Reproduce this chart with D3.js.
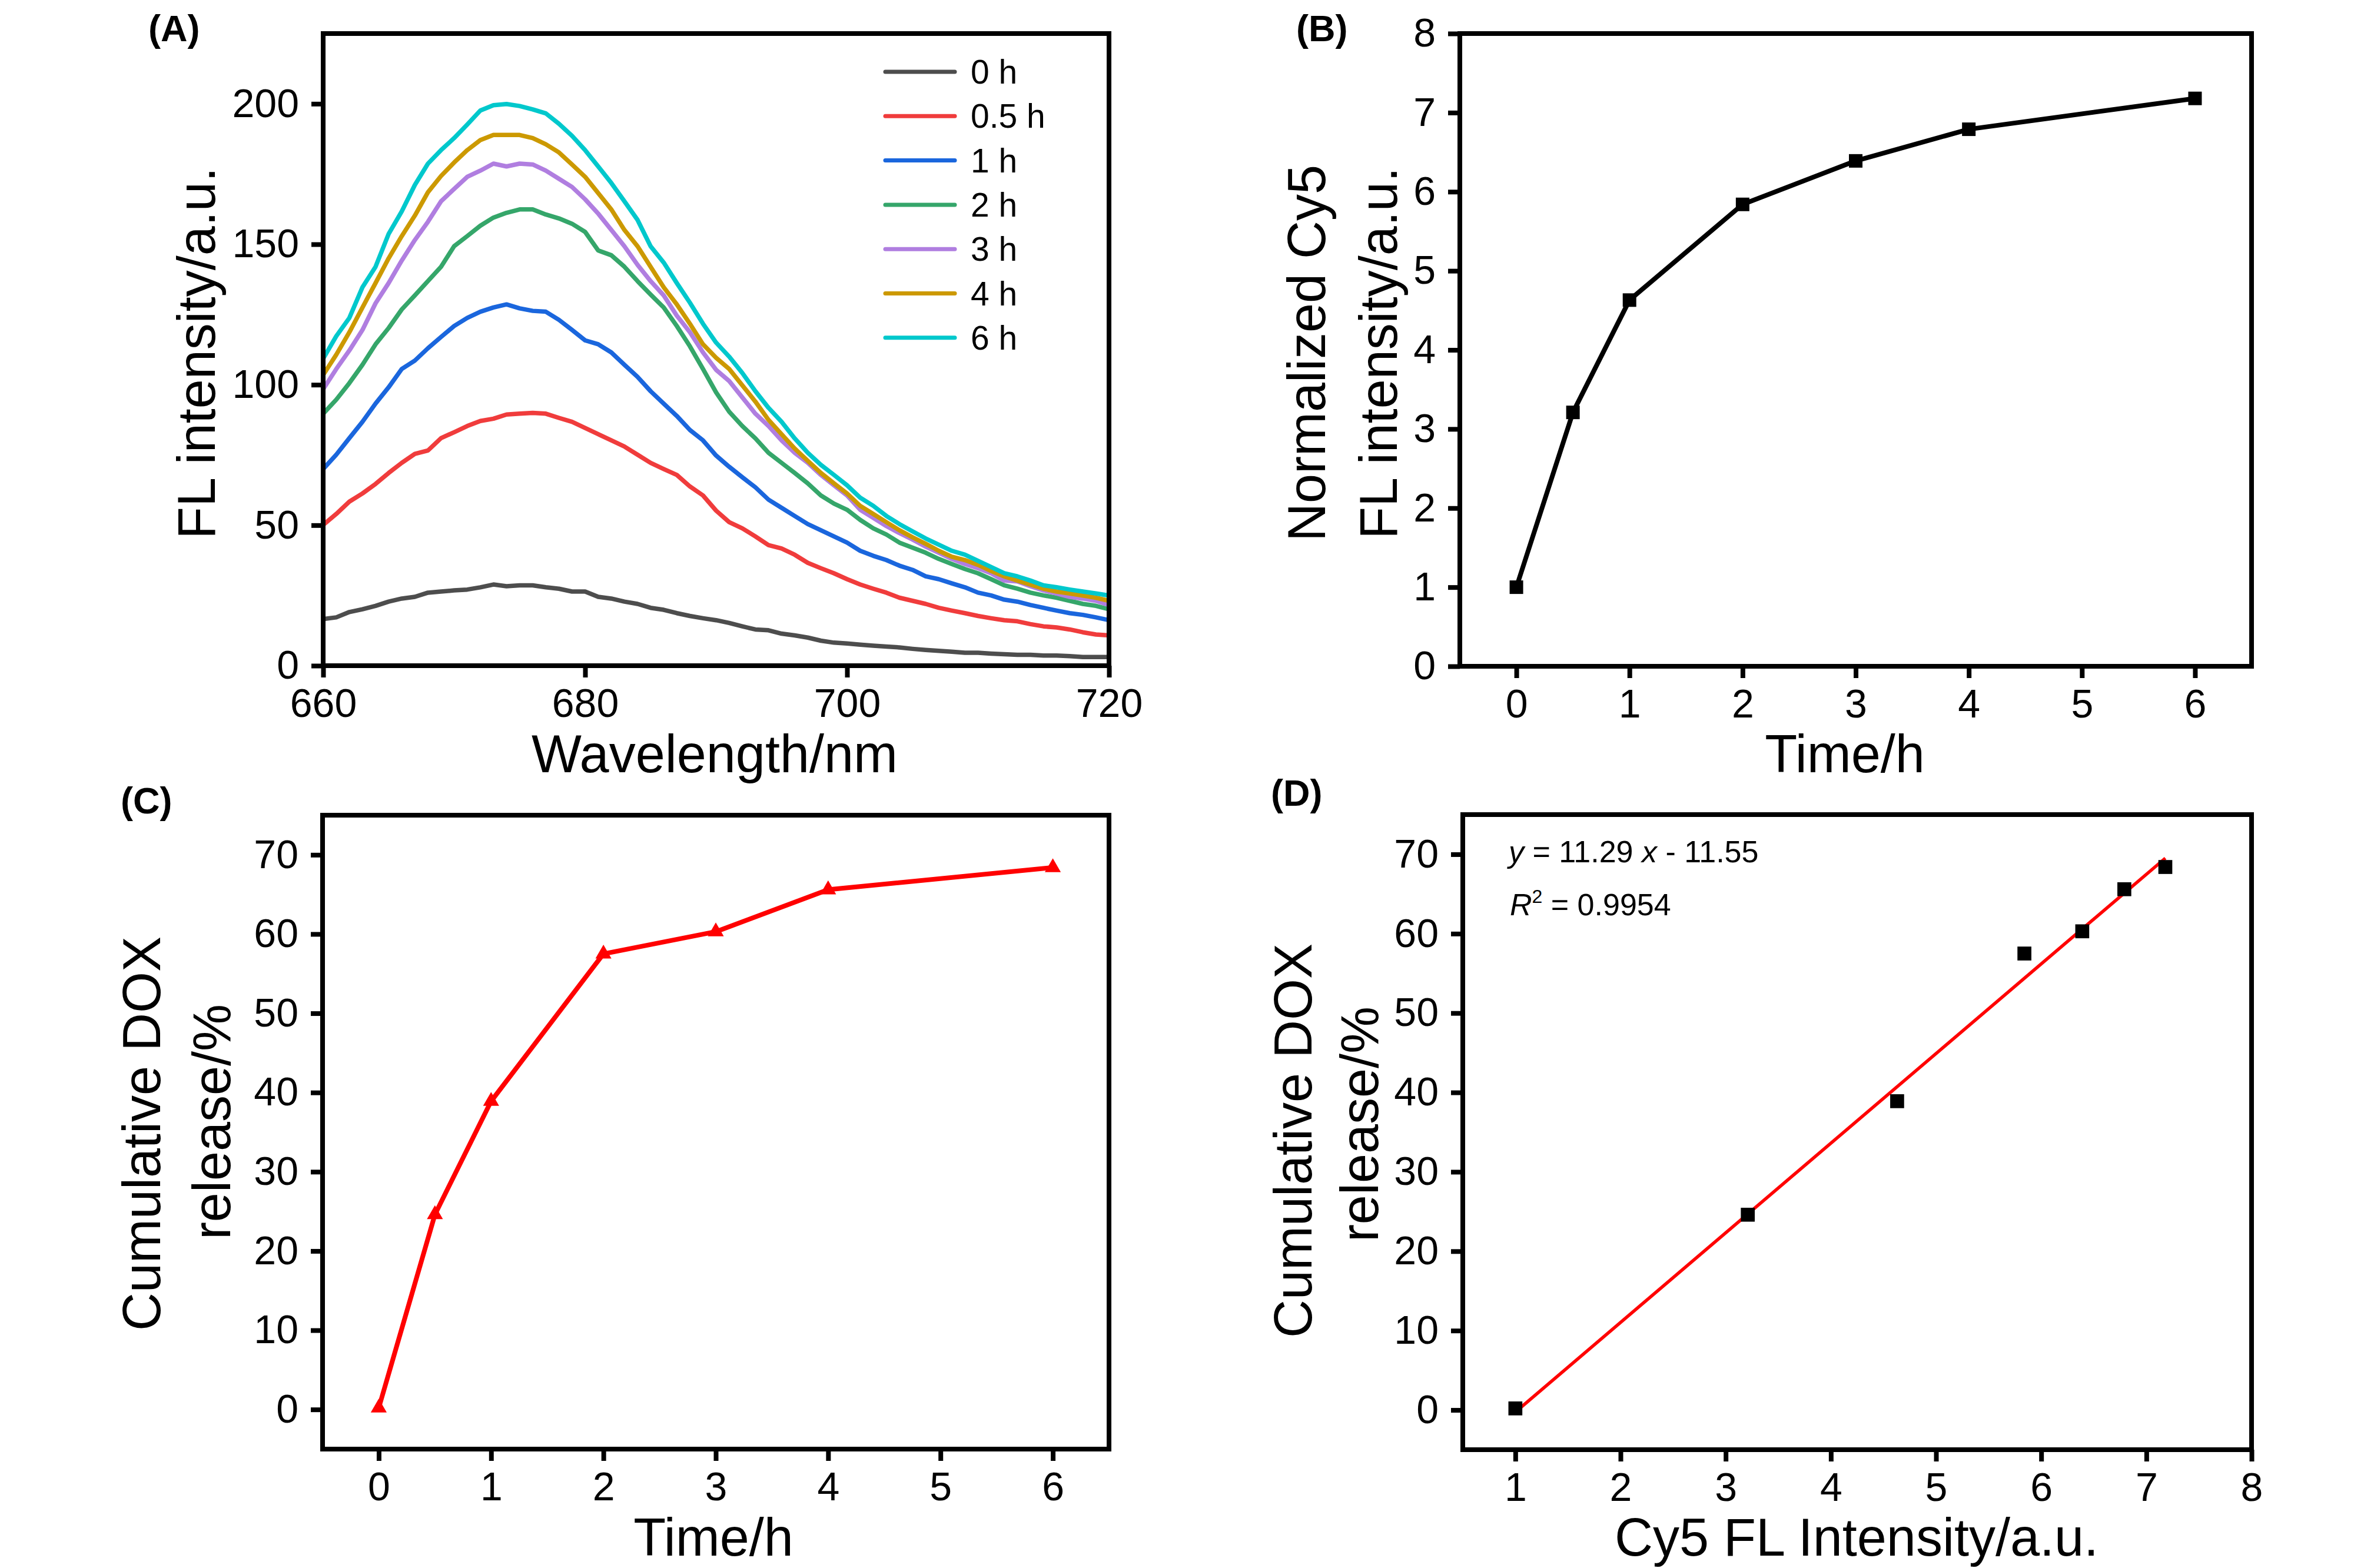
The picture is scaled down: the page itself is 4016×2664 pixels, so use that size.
<!DOCTYPE html>
<html>
<head>
<meta charset="utf-8">
<script src="https://cdn.jsdelivr.net/npm/d3@7/dist/d3.min.js"></script>
<style>
  html, body { margin: 0; padding: 0; background: #fff; }
  svg { display: block; }
  text { font-family: "Liberation Sans", Arial, sans-serif; fill: #000; }
</style>
</head>
<body>
<script>
// ---------------- DATA ----------------
const wavelengths = [660,661,662,663,664,665,666,667,668,669,670,671,672,673,674,675,676,677,678,679,680,681,682,683,684,685,686,687,688,689,690,691,692,693,694,695,696,697,698,699,700,701,702,703,704,705,706,707,708,709,710,711,712,713,714,715,716,717,718,719,720];
const seriesLabels = ["0 h", "0.5 h", "1 h", "2 h", "3 h", "4 h", "6 h"];
const seriesColors = ["#4d4d4d", "#f03c3c", "#1a66dd", "#35a66a", "#b07ee0", "#cc9900", "#00c8cc"];
const fl0h = [16.6,17.2,19.1,20.1,21.3,22.8,23.9,24.5,26,26.4,26.8,27.1,27.9,28.9,28.3,28.6,28.6,27.9,27.4,26.4,26.4,24.5,23.9,22.8,22,20.6,19.9,18.7,17.7,16.9,16.2,15.2,14,12.9,12.6,11.4,10.8,10,8.9,8.2,7.9,7.5,7.1,6.8,6.5,6,5.6,5.3,5,4.6,4.6,4.3,4.1,3.9,3.9,3.6,3.6,3.4,3.1,3.1,3.1];
const fl05h = [50.1,54,58.4,61.3,64.7,68.6,72.2,75.4,76.6,81,83.1,85.3,87.1,87.9,89.4,89.7,90,89.7,88.2,86.8,84.6,82.4,80.2,78,75.1,72.2,70,67.9,63.8,60.6,55.2,51.1,48.9,46,42.9,41.7,39.5,36.6,34.7,32.9,30.8,28.9,27.4,26,24.2,23.1,22,20.6,19.6,18.7,17.7,16.9,16.2,15.8,14.8,14,13.6,12.9,11.9,11.1,10.8];
const fl1h = [70,75.1,81,86.8,93.3,99.1,105.6,108.6,113,117,120.9,123.8,126,127.5,128.6,127.2,126.3,126,123.1,119.5,115.8,114.4,111.5,107.1,102.8,97.7,93.3,88.9,83.9,80.2,74.8,70.8,67.1,63.5,59.1,56.2,53.3,50.4,48.2,46,43.8,40.9,39.1,37.6,35.6,34.1,31.8,30.8,29.3,27.9,26,25,23.5,22.8,21.6,20.6,19.6,18.7,18.1,17.2,16.2];
const fl2h = [89.7,94.7,100.6,107.1,114.4,120.2,126.8,131.8,136.9,142,149.3,152.9,156.6,159.5,161.2,162.4,162.4,160.6,159.2,157.3,154.4,147.8,146.1,142,136.9,132.1,127.5,120.9,113.7,105.6,97.3,90.4,85.3,80.9,75.8,72.2,68.6,64.9,60.6,57.7,55.5,51.9,48.9,46.7,43.8,42,40.2,38,36.2,34.4,32.9,30.8,28.6,27.4,26,25,24.2,23.1,22,21.3,20.1];
const fl3h = [98.4,105.6,112.2,119.5,129,136.2,144.2,151.5,158,165.3,169.7,174,176.2,178.7,177.7,178.7,178.4,176.2,173.3,170.4,166,160.9,155.1,149.3,142.7,136.9,131.8,124.6,118.7,111.5,105.3,101.3,95.5,89.7,85.3,80.2,75.8,72.2,67.9,64.2,60.6,55.5,52.6,49.7,47.2,44.9,42.4,40.2,38,36.2,34.7,32.9,30.3,30,28.3,26.8,25.7,24.5,23.9,23.1,21.6];
const fl4h = [103.5,110.7,118.7,127.5,136.2,145,152.9,160.2,168.5,174.3,179.1,183.5,187.1,188.9,188.9,188.9,187.8,185.6,182.7,178.4,174,168.2,162.4,155.1,149.3,142,134.7,128.6,121.7,114.4,109.6,105.6,99.8,94,87.5,82.4,77.3,72.9,68.6,64.9,61.3,56.9,54,51.1,48.2,45.7,43.4,40.9,38.8,37.6,35.9,33.7,31.8,30.3,28.9,27.4,26.4,25.7,25,24.2,23.1];
const fl6h = [109.3,117.3,123.8,134.7,142,153.7,161.7,171.1,178.7,183.5,187.8,192.6,197.6,199.5,199.9,199.2,198,196.6,192.9,188.6,183.5,177.7,171.8,165.3,158.7,149.3,143.5,136.2,129.2,121.7,115,110,104.2,97.7,91.8,86.8,80.9,75.8,71.5,67.9,64.2,59.8,56.9,53.3,50.4,47.8,45.3,43.1,40.9,39.5,37.3,35.1,32.9,31.8,30.3,28.6,27.9,27.1,26.4,25.7,25];
const spectra = [fl0h, fl05h, fl1h, fl2h, fl3h, fl4h, fl6h];

const timeH = [0, 0.5, 1, 2, 3, 4, 6];
const cy5Norm = [1.0, 3.21, 4.63, 5.84, 6.39, 6.79, 7.18];
const doxRelease = [0.2, 24.6, 38.9, 57.5, 60.3, 65.6, 68.4];
const fitSlope = 11.29, fitIntercept = -11.55;
const fitEquation = ["y", " = 11.29", "x", " - 11.55"];
const fitR2 = "0.9954";

const xTicksA = [660, 680, 700, 720], yTicksA = [0, 50, 100, 150, 200];
const xTicksB = [0, 1, 2, 3, 4, 5, 6], yTicksB = [0, 1, 2, 3, 4, 5, 6, 7, 8];
const xTicksC = [0, 1, 2, 3, 4, 5, 6], yTicksC = [0, 10, 20, 30, 40, 50, 60, 70];
const xTicksD = [1, 2, 3, 4, 5, 6, 7, 8], yTicksD = [0, 10, 20, 30, 40, 50, 60, 70];

// ---------------- DRAWING ----------------
const W = 4016, H = 2664;
const FONT = '"Liberation Sans", Arial, sans-serif';
const svg = d3.select("body").append("svg").attr("width", W).attr("height", H);
svg.append("rect").attr("width", W).attr("height", H).attr("fill", "#fff");

function panel(box, xDom, yDom, xTicks, yTicks) {
  const x = d3.scaleLinear().domain(xDom).range([box.l, box.r]);
  const y = d3.scaleLinear().domain(yDom).range([box.b, box.t]);
  const g = svg.append("g");
  const ax = g.append("g").attr("transform", `translate(0,${box.b})`)
    .call(d3.axisBottom(x).tickValues(xTicks).tickSize(20).tickPadding(19).tickFormat(d3.format("")));
  const ay = g.append("g").attr("transform", `translate(${box.l},0)`)
    .call(d3.axisLeft(y).tickValues(yTicks).tickSize(20).tickPadding(21).tickFormat(d3.format("")));
  [ax, ay].forEach(a => {
    a.select(".domain").remove();
    a.selectAll(".tick line").attr("stroke", "#000").attr("stroke-width", 8);
    a.selectAll(".tick text").attr("font-size", 68).attr("font-family", FONT).attr("fill", "#000");
  });
  const plot = g.append("g");
  g.append("rect").attr("x", box.l).attr("y", box.t).attr("width", box.r - box.l).attr("height", box.b - box.t)
    .attr("fill", "none").attr("stroke", "#000").attr("stroke-width", 8);
  return { x, y, g, plot };
}

function label(txt, x, y, opts = {}) {
  const t = svg.append("text").attr("x", x).attr("y", y).attr("font-size", opts.size || 90)
    .attr("text-anchor", opts.anchor || "middle").attr("font-family", FONT).text(txt);
  if (opts.bold) t.attr("font-weight", "bold");
  if (opts.rotate) t.attr("transform", `rotate(-90,${x},${y})`);
  return t;
}

// ---- Panel A ----
const A = panel({ l: 549, r: 1884, t: 57, b: 1131 }, [660, 720], [0, 225], xTicksA, yTicksA);
const lineA = d3.line().x((d, i) => A.x(wavelengths[i])).y(d => A.y(d));
spectra.forEach((s, k) => {
  A.plot.append("path").attr("d", lineA(s)).attr("fill", "none")
    .attr("stroke", seriesColors[k]).attr("stroke-width", 7.5).attr("stroke-linejoin", "round");
});
const leg = svg.append("g");
seriesLabels.forEach((lab, k) => {
  const yy = 122 + k * 75.3;
  leg.append("line").attr("x1", 1504).attr("x2", 1622).attr("y1", yy).attr("y2", yy)
    .attr("stroke", seriesColors[k]).attr("stroke-width", 7).attr("stroke-linecap", "round");
  leg.append("text").attr("x", 1649).attr("y", yy + 20).attr("font-size", 57).attr("font-family", FONT).text(lab);
});
label("(A)", 252, 70, { size: 63, bold: true, anchor: "start" });
label("Wavelength/nm", 1214, 1312);
label("FL intensity/a.u.", 365, 600, { rotate: true });

// ---- Panel B ----
const B = panel({ l: 2480, r: 3825, t: 57, b: 1132 }, [-0.5, 6.5], [0, 8], xTicksB, yTicksB);
B.plot.append("path").attr("d", d3.line().x((d, i) => B.x(timeH[i])).y(d => B.y(d))(cy5Norm))
  .attr("fill", "none").attr("stroke", "#000").attr("stroke-width", 8).attr("stroke-linejoin", "round");
B.plot.selectAll("path.m").data(cy5Norm).enter().append("path")
  .attr("d", d3.symbol(d3.symbolSquare).size(529)())
  .attr("transform", (d, i) => `translate(${B.x(timeH[i])},${B.y(d)})`).attr("fill", "#000");
label("(B)", 2202, 70, { size: 63, bold: true, anchor: "start" });
label("Time/h", 3134, 1312);
label("Normalized Cy5", 2251, 600, { rotate: true });
label("FL intensity/a.u.", 2373, 600, { rotate: true });

// ---- Panel C ----
const C = panel({ l: 548, r: 1884, t: 1385, b: 2462 }, [-0.5, 6.5], [-5, 75], xTicksC, yTicksC);
C.plot.append("path").attr("d", d3.line().x((d, i) => C.x(timeH[i])).y(d => C.y(d))(doxRelease))
  .attr("fill", "none").attr("stroke", "#ff0000").attr("stroke-width", 8).attr("stroke-linejoin", "round");
C.plot.selectAll("path.m").data(doxRelease).enter().append("path")
  .attr("d", d3.symbol(d3.symbolTriangle).size(320)())
  .attr("transform", (d, i) => `translate(${C.x(timeH[i])},${C.y(d)})`).attr("fill", "#ff0000");
label("(C)", 205, 1382, { size: 63, bold: true, anchor: "start" });
label("Time/h", 1212, 2643);
label("Cumulative DOX", 272, 1926, { rotate: true });
label("release/%", 391, 1906, { rotate: true });

// ---- Panel D ----
const D = panel({ l: 2485, r: 3825, t: 1384, b: 2463 }, [0.5, 8], [-5, 75], xTicksD, yTicksD);
const fitX = d3.extent(cy5Norm);
D.plot.append("line")
  .attr("x1", D.x(fitX[0])).attr("y1", D.y(fitSlope * fitX[0] + fitIntercept))
  .attr("x2", D.x(fitX[1])).attr("y2", D.y(fitSlope * fitX[1] + fitIntercept))
  .attr("stroke", "#ff0000").attr("stroke-width", 5.5);
D.plot.selectAll("path.m").data(doxRelease).enter().append("path")
  .attr("d", d3.symbol(d3.symbolSquare).size(560)())
  .attr("transform", (d, i) => `translate(${D.x(cy5Norm[i])},${D.y(d)})`).attr("fill", "#000");
const eq = svg.append("text").attr("x", 2563).attr("y", 1465).attr("font-size", 52).attr("font-family", FONT);
eq.append("tspan").attr("font-style", "italic").text(fitEquation[0]);
eq.append("tspan").text(fitEquation[1] + " ");
eq.append("tspan").attr("font-style", "italic").text(fitEquation[2]);
eq.append("tspan").text(fitEquation[3]);
const r2 = svg.append("text").attr("x", 2565).attr("y", 1555).attr("font-size", 52).attr("font-family", FONT);
r2.append("tspan").attr("font-style", "italic").text("R");
r2.append("tspan").attr("font-size", 32).attr("dy", -21).text("2");
r2.append("tspan").attr("dy", 21).text(" = " + fitR2);
label("(D)", 2159, 1369, { size: 63, bold: true, anchor: "start" });
label("Cy5 FL Intensity/a.u.", 3154, 2643);
label("Cumulative DOX", 2228, 1938, { rotate: true });
label("release/%", 2341, 1910, { rotate: true });
</script>
</body>
</html>
